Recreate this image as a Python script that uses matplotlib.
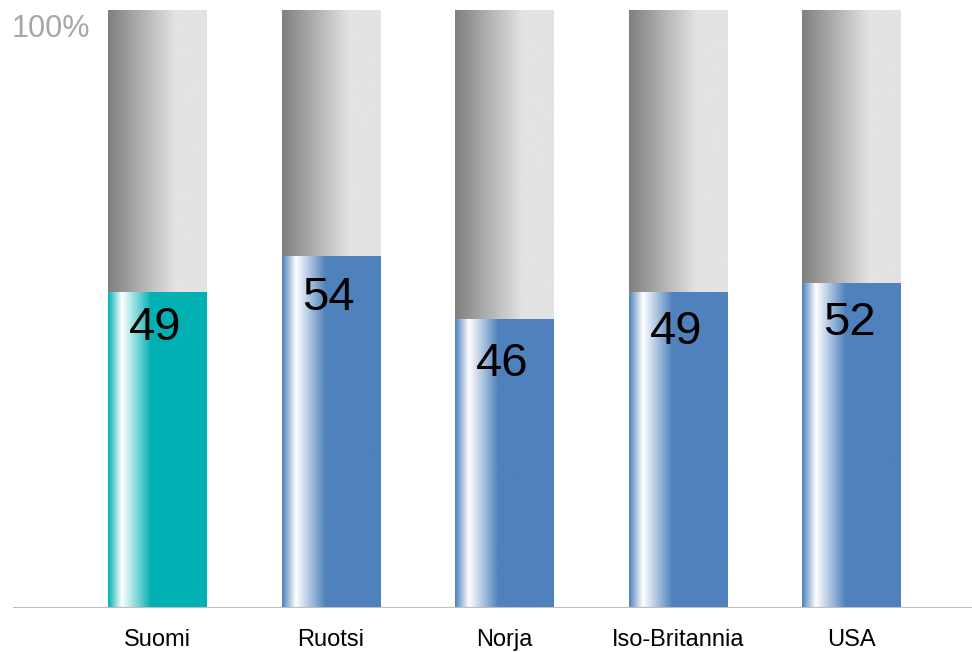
import numpy as np
import matplotlib.pyplot as plt
from matplotlib.colors import LinearSegmentedColormap

# data
categories = ['Suomi', 'Ruotsi', 'Norja', 'Iso-Britannia', 'USA']
labels = [49, 54, 46, 49, 52]
heights = [52.7, 58.7, 48.2, 52.7, 54.2]   # bar heights as drawn (% of 100)
label_y = [46.8, 51.8, 40.8, 46.1, 47.6]   # where the value labels sit
colors = ['#00b0b3', '#4f81bd', '#4f81bd', '#4f81bd', '#4f81bd']

fig = plt.figure(figsize=(9.72, 6.52), dpi=100)
ax = fig.add_axes([13 / 972, 1 - 608 / 652, 1 - 13 / 972, 598 / 652])
ax.set_xlim(-0.829, 4.694)
ax.set_ylim(0, 100)

width = 0.565
grad = np.linspace(0, 1, 256).reshape(1, -1)
grey_cmap = LinearSegmentedColormap.from_list(
    'grey', [(0, '#7f7f7f'), (0.68, '#e3e3e3'), (1, '#e3e3e3')])

for i, (h, lab, c) in enumerate(zip(heights, labels, colors)):
    x0, x1 = i - width / 2, i + width / 2
    # background 100% bar
    ax.imshow(grad, cmap=grey_cmap, extent=(x0, x1, h, 100), aspect='auto',
              interpolation='bilinear', zorder=1)
    cmap = LinearSegmentedColormap.from_list(
        'c%d' % i, [(0, c), (0.14, '#ffffff'), (0.44, c), (1, c)])
    ax.imshow(grad, cmap=cmap, extent=(x0, x1, 0, h), aspect='auto',
              interpolation='bilinear', zorder=2)
    ax.text(i - 0.01, label_y[i], str(lab), ha='center', va='center',
            fontsize=34, family='Liberation Sans', color='black', zorder=3)
    ax.text(i, -5.3, categories[i], ha='center', va='center',
            fontsize=17, family='Liberation Sans', color='black')

ax.text(-0.835, 96.8, '100%', ha='left', va='center', fontsize=22,
        family='Liberation Sans', color='#a6a6a6')

ax.axhline(0, color='#bfbfbf', lw=1.5, zorder=4)
for s in ax.spines.values():
    s.set_visible(False)
ax.set_xticks([])
ax.set_yticks([])
ax.patch.set_alpha(0)

fig.savefig('out.png', dpi=100)
